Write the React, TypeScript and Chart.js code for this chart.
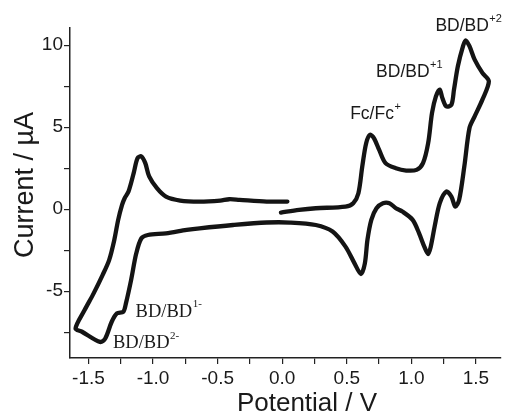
import React, { useEffect, useRef } from "react";
import { Chart, registerables } from "chart.js";

Chart.register(...registerables);

// Cyclic voltammogram trace (one continuous path)
const potential: number[] = [
  0.04, -0.12, -0.33, -0.41, -0.48, -0.64, -0.79, -0.9, -0.97, -1.03,
  -1.06, -1.09, -1.12, -1.15, -1.19, -1.22, -1.24, -1.27, -1.3, -1.34,
  -1.39, -1.46, -1.53, -1.6, -1.55, -1.41, -1.37, -1.32, -1.28, -1.23,
  -1.21, -1.17, -1.13, -1.09, -1.04, -0.9, -0.74, -0.64, -0.38, -0.12,
  0.06, 0.26, 0.39, 0.49, 0.56, 0.61, 0.64, 0.66, 0.69, 0.73,
  0.78, 0.83, 0.88, 0.93, 1.01, 1.06, 1.1, 1.13, 1.15, 1.18,
  1.22, 1.27, 1.31, 1.34, 1.37, 1.41, 1.45, 1.49, 1.55, 1.6,
  1.55, 1.49, 1.45, 1.42, 1.4, 1.36, 1.33, 1.31, 1.27, 1.24,
  1.22, 1.19, 1.16, 1.13, 1.09, 1.04, 0.96, 0.88, 0.8, 0.75,
  0.71, 0.68, 0.65, 0.62, 0.59, 0.55, 0.49, 0.26, 0.13, -0.01,
];
const current: number[] = [
  0.47, 0.47, 0.57, 0.61, 0.53, 0.47, 0.53, 0.77, 1.28, 2.0,
  2.81, 3.22, 3.12, 2.2, 1.08, 0.67, 0.26, -0.65, -1.87, -3.1,
  -4.0, -5.13, -6.15, -7.27, -7.47, -8.09, -7.88, -6.86, -6.35, -6.25,
  -5.74, -4.32, -2.69, -1.77, -1.57, -1.47, -1.26, -1.16, -0.96, -0.81,
  -0.81, -0.96, -1.36, -2.28, -3.3, -3.95, -3.3, -1.87, -0.65, 0.06,
  0.37, 0.37, 0.06, -0.14, -0.65, -1.47, -2.28, -2.73, -2.28, -1.06,
  0.37, 1.08, 0.77, 0.16, 0.57, 2.61, 4.95, 5.66, 6.68, 7.8,
  8.31, 9.12, 9.94, 10.3, 9.94, 8.72, 7.29, 6.37, 6.27, 6.78,
  7.29, 6.88, 5.87, 4.03, 2.81, 2.4, 2.36, 2.5, 2.81, 3.63,
  4.34, 4.54, 4.03, 2.61, 0.98, 0.37, 0.16, 0.06, -0.04, -0.2,
];

const xTickLabels: number[] = [-1.5, -1.0, -0.5, 0.0, 0.5, 1.0, 1.5];
const yTickLabels: number[] = [-5, 0, 5, 10];

const xTitle = "Potential / V";
const yTitle = "Current / \u00B5A";

// Peak labels: main text, superscript, anchor in data units (left, baseline)
const labelTexts: string[] = ["Fc/Fc", "BD/BD", "BD/BD", "BD/BD", "BD/BD"];
const labelSups: string[] = ["+", "+1", "+2", "1-", "2-"];
const labelX: number[] = [0.526, 0.727, 1.186, -1.135, -1.31];
const labelY: number[] = [5.49, 8.06, 10.84, -6.56, -8.49];
const labelSerif: boolean[] = [false, false, false, true, true];

const SANS = '"Liberation Sans", Arial, Helvetica, sans-serif';
const SERIF = '"Liberation Serif", "Times New Roman", serif';

const overlayPlugin = {
  id: "overlay",
  afterDraw(chart: any) {
    const ctx = chart.ctx as CanvasRenderingContext2D;
    const xs = chart.scales.x;
    const ys = chart.scales.y;
    ctx.save();
    ctx.fillStyle = "#1a1a1a";
    ctx.textBaseline = "alphabetic";
    ctx.textAlign = "left";
    for (let i = 0; i < labelTexts.length; i++) {
      const px = xs.getPixelForValue(labelX[i]);
      const py = ys.getPixelForValue(labelY[i]);
      const fam = labelSerif[i] ? SERIF : SANS;
      const size = labelSerif[i] ? 18.5 : 17.5;
      ctx.font = `${size}px ${fam}`;
      ctx.fillText(labelTexts[i], px, py);
      const w = ctx.measureText(labelTexts[i]).width;
      ctx.font = `11px ${fam}`;
      ctx.fillText(labelSups[i], px + w + 0.5, py - 9.5);
    }
    // axis titles
    ctx.font = `26px ${SANS}`;
    ctx.textAlign = "center";
    ctx.fillText(xTitle, 307, 411);
    ctx.translate(33, 185);
    ctx.rotate(-Math.PI / 2);
    ctx.font = `27px ${SANS}`;
    ctx.fillText(yTitle, 0, 0);
    ctx.restore();
  },
};

export default function App() {
  const ref = useRef<HTMLCanvasElement | null>(null);
  useEffect(() => {
    if (!ref.current) return;
    const data = potential.map((v, i) => ({ x: v, y: current[i] }));
    const near = (a: number, list: number[]) => list.some((t) => Math.abs(t - a) < 1e-6);
    const chart = new Chart(ref.current, {
      type: "scatter",
      data: {
        datasets: [
          {
            data,
            showLine: true,
            borderColor: "#141414",
            borderWidth: 4.3,
            pointRadius: 0,
            tension: 0.3,
            fill: false,
            borderJoinStyle: "round",
            borderCapStyle: "round",
          } as any,
        ],
      },
      options: {
        animation: false,
        responsive: false,
        devicePixelRatio: 1,
        layout: { padding: { top: 28, right: 4, left: 0, bottom: 0 } },
        plugins: { legend: { display: false }, tooltip: { enabled: false } },
        scales: {
          x: {
            type: "linear",
            min: -1.643,
            max: 1.694,
            afterFit: (s: any) => {
              s.height = 55;
            },
            border: { display: true, color: "#222", width: 1.5 },
            grid: { drawOnChartArea: false, drawTicks: true, tickLength: 6, color: "#222", lineWidth: 1.2 },
            ticks: {
              stepSize: 0.25,
              includeBounds: false,
              autoSkip: false,
              maxRotation: 0,
              padding: 3,
              color: "#1a1a1a",
              font: { family: SANS, size: 19 },
              callback: (v: any) => (near(Number(v), xTickLabels) ? Number(v).toFixed(1) : ""),
            },
          },
          y: {
            type: "linear",
            min: -9.07,
            max: 11.05,
            afterFit: (s: any) => {
              s.width = 70;
            },
            border: { display: true, color: "#222", width: 1.5 },
            grid: { drawOnChartArea: false, drawTicks: true, tickLength: 6, color: "#222", lineWidth: 1.2 },
            ticks: {
              stepSize: 2.5,
              includeBounds: false,
              autoSkip: false,
              padding: 1,
              color: "#1a1a1a",
              font: { family: SANS, size: 19 },
              callback: (v: any) => (near(Number(v), yTickLabels) ? String(Math.round(Number(v))) : ""),
            },
          },
        },
      } as any,
      plugins: [overlayPlugin],
    });
    return () => chart.destroy();
  }, []);
  return (
    <div style={{ position: "absolute", left: 0, top: 0, width: 505, height: 413, background: "#fff" }}>
      <canvas ref={ref} width={505} height={413} />
    </div>
  );
}
